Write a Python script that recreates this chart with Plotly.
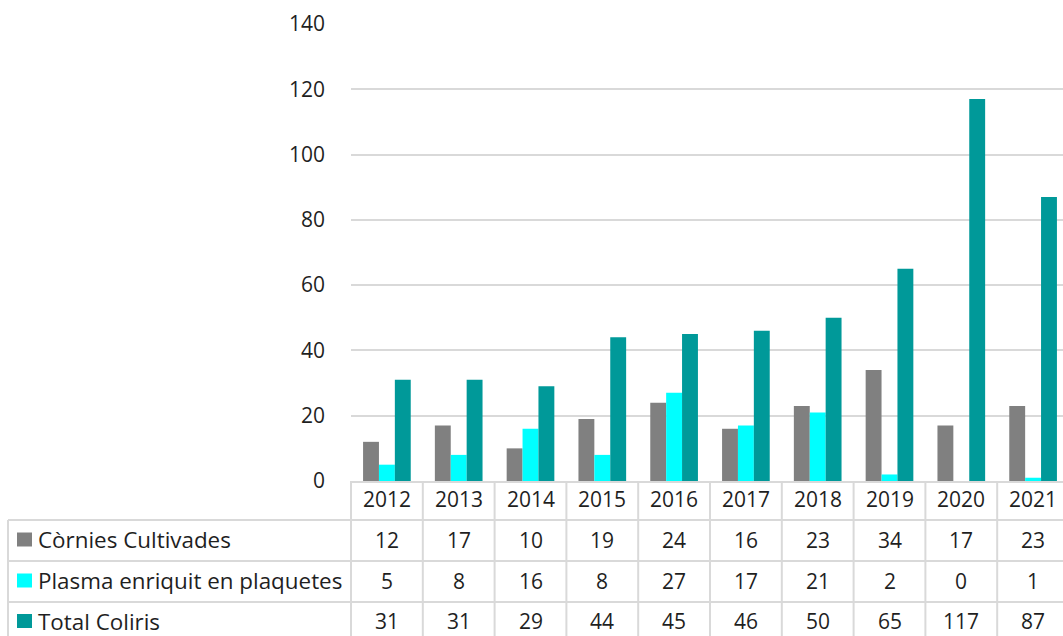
import plotly.graph_objects as go

years = ["2012", "2013", "2014", "2015", "2016", "2017", "2018", "2019", "2020", "2021"]
series_names = ["Còrnies Cultivades", "Plasma enriquit en plaquetes", "Total Coliris"]
cornies = [12, 17, 10, 19, 24, 16, 23, 34, 17, 23]
plasma = [5, 8, 16, 8, 27, 17, 21, 2, 0, 1]
total = [31, 31, 29, 44, 45, 46, 50, 65, 117, 87]
y_ticks = [0, 20, 40, 60, 80, 100, 120, 140]

colors = ["#808080", "#00FFFF", "#009999"]
series = [cornies, plasma, total]

W, H = 1063, 636
L, T, B = 351, 24, 155
PW = W - L
PH = H - T - B
FONT = "Open Sans"
FS = 21
FS_LBL = 22.4
TXT = "#1f1f1f"
LINE = "#D9D9D9"


def xp(px):
    return (px - L) / PW


def yp(py):
    return (T + PH - py) / PH


fig = go.Figure()
for name, vals, c in zip(series_names, series, colors):
    fig.add_trace(go.Bar(x=years, y=vals, name=name, marker=dict(color=c, line=dict(width=0))))

shapes = []
annotations = []

# table row geometry (pixels)
row_lines = [520, 561, 602]
row_centers = [539.5, 580.5, 621]
year_center = 499
table_left = 8
table_bottom = 660

for ry in row_lines:
    shapes.append(dict(type="line", xref="paper", yref="paper", x0=xp(table_left), x1=1.05,
                       y0=yp(ry), y1=yp(ry), line=dict(color=LINE, width=2)))
for i in range(len(years) - 1):
    shapes.append(dict(type="line", xref="x", yref="paper", x0=i + 0.5, x1=i + 0.5,
                       y0=0, y1=yp(table_bottom), line=dict(color=LINE, width=2)))
shapes.append(dict(type="line", xref="paper", yref="paper", x0=0, x1=0,
                   y0=0, y1=yp(table_bottom), line=dict(color=LINE, width=2)))
shapes.append(dict(type="line", xref="paper", yref="paper", x0=xp(table_left), x1=xp(table_left),
                   y0=yp(row_lines[0]), y1=yp(table_bottom), line=dict(color=LINE, width=2)))

for i, yr in enumerate(years):
    annotations.append(dict(x=i, xref="x", y=yp(year_center), yref="paper", text=yr,
                            showarrow=False, xanchor="center", yanchor="middle",
                            font=dict(family=FONT, size=FS, color=TXT)))
for r, (name, vals, c) in enumerate(zip(series_names, series, colors)):
    cy = row_centers[r]
    for i, v in enumerate(vals):
        annotations.append(dict(x=i, xref="x", y=yp(cy), yref="paper", text=str(v),
                                showarrow=False, xanchor="center", yanchor="middle",
                                font=dict(family=FONT, size=FS, color=TXT)))
    annotations.append(dict(x=xp(36), xref="paper", y=yp(cy), yref="paper", text=name,
                            showarrow=False, xanchor="left", yanchor="middle",
                            font=dict(family=FONT, size=FS_LBL, color=TXT)))
    shapes.append(dict(type="rect", xref="paper", yref="paper", x0=xp(17), x1=xp(32),
                       y0=yp(cy - 7), y1=yp(cy + 7), line=dict(width=0), fillcolor=c))

col_w = 71.8
fig.update_layout(
    width=W, height=H,
    margin=dict(l=L, r=0, t=T, b=B, pad=0),
    paper_bgcolor="white", plot_bgcolor="white",
    barmode="group", bargap=0.336, bargroupgap=0,
    showlegend=False,
    font=dict(family=FONT, size=FS, color=TXT),
    xaxis=dict(type="category", range=[-0.5, -0.5 + PW / col_w], showticklabels=False,
               showgrid=False, showline=True, linecolor=LINE, linewidth=2, ticks="",
               fixedrange=True),
    yaxis=dict(range=[0, 140], tickvals=y_ticks, showgrid=True, gridcolor=LINE, gridwidth=1.5,
               zeroline=False, showline=False, ticks="", ticklabelstandoff=25,
               tickfont=dict(family=FONT, size=FS, color=TXT), fixedrange=True),
    shapes=shapes,
    annotations=annotations,
)

fig.write_html("out.html", config={"displayModeBar": False},
               post_script="document.body.style.margin='0';document.body.style.overflow='hidden';")
